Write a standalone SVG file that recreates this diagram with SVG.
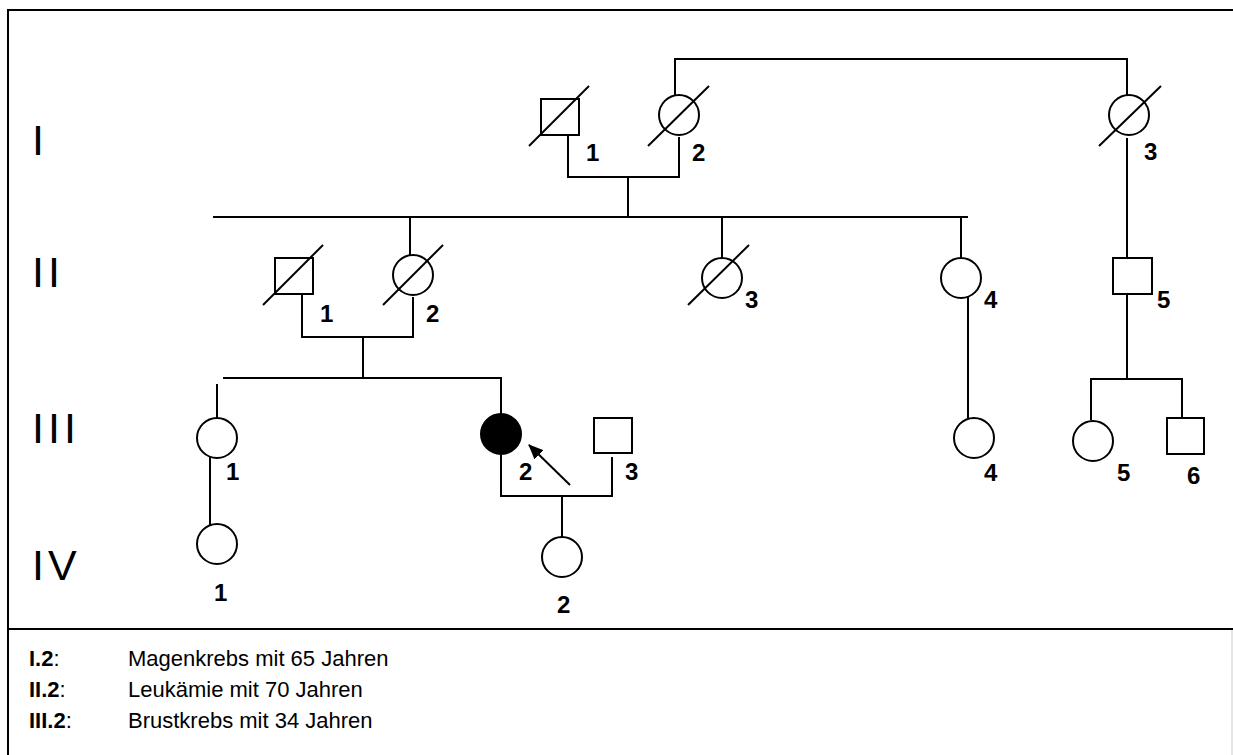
<svg xmlns="http://www.w3.org/2000/svg" width="1233" height="755" viewBox="0 0 1233 755">
<style>
.s{fill:none;stroke:#000;stroke-width:2}
.f{fill:#fff;stroke:#000;stroke-width:2}
.d{fill:#000;stroke:#000;stroke-width:2}
.n{font-family:"Liberation Sans",Arial,sans-serif;font-weight:bold;font-size:24px;fill:#000}
.g{font-family:"Liberation Sans",Arial,sans-serif;font-size:43px;fill:#000;letter-spacing:4px}
.l{font-family:"Liberation Sans",Arial,sans-serif;font-size:22px;fill:#000}
</style>
<defs>
<marker id="ah" markerWidth="15" markerHeight="13" refX="14" refY="6.5" orient="auto" markerUnits="userSpaceOnUse" viewBox="0 0 15 13">
<path d="M0,0 L15,6.5 L0,13 z" fill="#000"/>
</marker>
</defs>
<rect x="0" y="0" width="1233" height="755" fill="#fff"/>
<g id="frame">
<line class="s" x1="8" y1="10" x2="1233" y2="10"/>
<line class="s" x1="8" y1="9" x2="8" y2="755"/>
<line class="s" x1="8" y1="629" x2="1233" y2="629"/>
<line x1="1232" y1="630" x2="1232" y2="755" stroke="#ccc" stroke-width="1"/>
</g>
<g id="generations">
<text class="g" x="32" y="155">I</text>
<text class="g" x="32" y="287">II</text>
<text class="g" x="32" y="443">III</text>
<text class="g" x="32" y="580">IV</text>
</g>
<g id="connectors">
<polyline class="s" points="675,100 675,59 1127,59 1127,100"/>
<polyline class="s" points="568,135 568,177 679,177 679,137"/>
<line class="s" x1="628" y1="177" x2="628" y2="217"/>
<line class="s" x1="213" y1="217" x2="968" y2="217"/>
<line class="s" x1="410" y1="217" x2="410" y2="258"/>
<line class="s" x1="722" y1="217" x2="722" y2="258"/>
<line class="s" x1="961" y1="217" x2="961" y2="258"/>
<line class="s" x1="1127" y1="138" x2="1127" y2="258"/>
<polyline class="s" points="302,294 302,337 413,337 413,297"/>
<line class="s" x1="363" y1="337" x2="363" y2="378"/>
<line class="s" x1="223" y1="378" x2="502" y2="378"/>
<line class="s" x1="217" y1="384" x2="217" y2="418"/>
<line class="s" x1="501" y1="378" x2="501" y2="414"/>
<line class="s" x1="968" y1="297" x2="968" y2="418"/>
<line class="s" x1="1127" y1="294" x2="1127" y2="379"/>
<polyline class="s" points="1091,420 1091,379 1182,379 1182,418"/>
<line class="s" x1="210" y1="457" x2="210" y2="525"/>
<polyline class="s" points="501,455 501,496 612,496 612,457"/>
<line class="s" x1="562" y1="496" x2="562" y2="537"/>
<line class="s" x1="570" y1="485" x2="529" y2="445" marker-end="url(#ah)"/>
</g>
<g id="I1"><rect class="f" x="541" y="99" width="38" height="36"/><line class="s" x1="529" y1="146" x2="589" y2="86"/><text class="n" x="586" y="161">1</text></g>
<g id="I2"><circle class="f" cx="679" cy="115" r="20"/><line class="s" x1="648" y1="146" x2="709" y2="86"/><text class="n" x="692" y="161">2</text></g>
<g id="I3"><circle class="f" cx="1129" cy="115" r="20"/><line class="s" x1="1099" y1="146" x2="1161" y2="86"/><text class="n" x="1144" y="160">3</text></g>
<g id="II1"><rect class="f" x="275" y="258" width="38" height="36"/><line class="s" x1="263" y1="305" x2="323" y2="245"/><text class="n" x="320" y="322">1</text></g>
<g id="II2"><circle class="f" cx="413" cy="275" r="20"/><line class="s" x1="383" y1="305" x2="443" y2="245"/><text class="n" x="426" y="322">2</text></g>
<g id="II3"><circle class="f" cx="722" cy="278" r="20"/><line class="s" x1="688" y1="305" x2="749" y2="245"/><text class="n" x="745" y="308">3</text></g>
<g id="II4"><circle class="f" cx="961" cy="278" r="20"/><text class="n" x="984" y="308">4</text></g>
<g id="II5"><rect class="f" x="1113" y="258" width="39" height="36"/><text class="n" x="1157" y="308">5</text></g>
<g id="III1"><circle class="f" cx="217" cy="438" r="20"/><text class="n" x="226" y="480">1</text></g>
<g id="III2"><circle class="d" cx="501" cy="434" r="20"/><text class="n" x="519" y="480">2</text></g>
<g id="III3"><rect class="f" x="594" y="418" width="38" height="35"/><text class="n" x="625" y="480">3</text></g>
<g id="III4"><circle class="f" cx="974" cy="438" r="20"/><text class="n" x="984" y="481">4</text></g>
<g id="III5"><circle class="f" cx="1093" cy="441" r="20"/><text class="n" x="1117" y="481">5</text></g>
<g id="III6"><rect class="f" x="1167" y="418" width="37" height="36"/><text class="n" x="1187" y="484">6</text></g>
<g id="IV1"><circle class="f" cx="217" cy="544" r="20"/><text class="n" x="214" y="601">1</text></g>
<g id="IV2"><circle class="f" cx="562" cy="557" r="20"/><text class="n" x="557" y="613">2</text></g>
<g id="legend">
<text class="l" x="29" y="666"><tspan font-weight="bold">I.2</tspan>:</text>
<text class="l" x="128" y="666">Magenkrebs mit 65 Jahren</text>
<text class="l" x="29" y="697"><tspan font-weight="bold">II.2</tspan>:</text>
<text class="l" x="128" y="697">Leukämie mit 70 Jahren</text>
<text class="l" x="29" y="728"><tspan font-weight="bold">III.2</tspan>:</text>
<text class="l" x="128" y="728">Brustkrebs mit 34 Jahren</text>
</g>
</svg>
